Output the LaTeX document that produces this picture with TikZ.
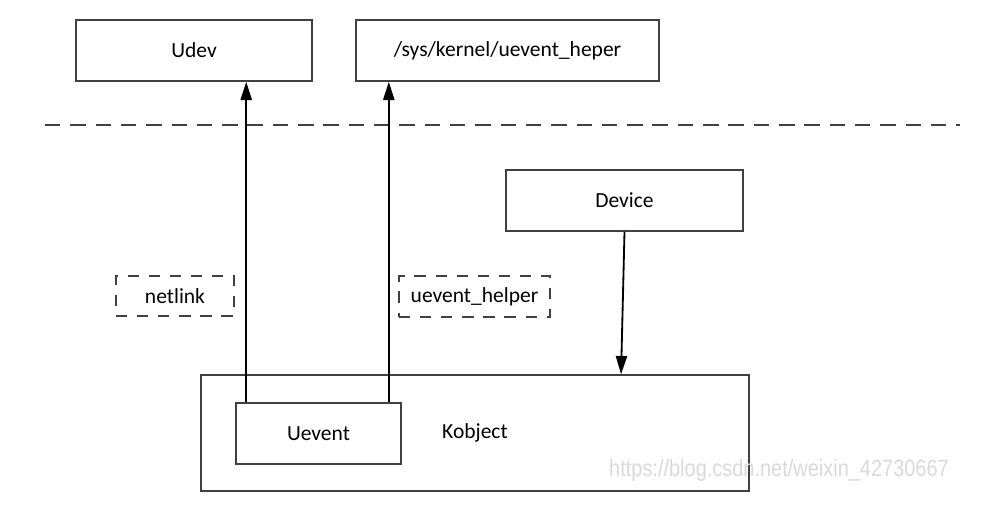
\documentclass[tikz,border=0pt]{standalone}
\usepackage{fontspec}
\setmainfont{Carlito}
\newfontfamily\markfont{Liberation Sans}
\usetikzlibrary{arrows.meta}
\definecolor{edgegray}{HTML}{404040}
\tikzset{
	box/.style={draw=edgegray, line width=1.1pt, minimum height=1.525cm},
	dbox/.style={draw=edgegray, line width=1.1pt, dash pattern=on 8pt off 7pt, minimum height=1cm},
	arr/.style={line width=1.3pt, -{Triangle[length=13pt, width=8pt]}}
}
\begin{document}
\begin{tikzpicture}[x=0.025cm, y=-0.025cm, font=\fontsize{15.3}{18}\selectfont]
	\useasboundingbox (0,0) rectangle (992,509);
	%user space
	\node[box, minimum width=5.9cm] (udev) at (194,50.5) {Udev};
	\node[box, minimum width=7.575cm] (sysk) at (507.5,50.5) {/sys/kernel/uevent\_heper};
	%border
	\coordinate (sepl) at (45,125);
	\coordinate (sepr) at (960,125);
	\draw[edgegray, line width=1.4pt, dash pattern=on 11pt off 7pt] (sepl) -- (sepr);
	%kernel
	\node[box, minimum width=5.925cm] (device) at (624.5,200.5) {Device};
	\node[dbox, minimum width=2.95cm] (netlink) at (175,296) {netlink};
	\node[dbox, minimum width=3.775cm, minimum height=1.025cm] (helper) at (474.5,296.5) {uevent\_helper};
	\node[box, minimum width=13.7cm, minimum height=2.9cm] (kobject) at (475,433) {Kobject};
	\node[box, fill=white, minimum width=4.125cm] (uevent) at (318.5,433.5) {Uevent};
	%arrows
	\draw[arr] ([xshift=0.275cm]uevent.north west) -- ([xshift=0.275cm]uevent.north west |- udev.south);
	\draw[arr] ([xshift=-0.325cm]uevent.north east) -- ([xshift=-0.325cm]uevent.north east |- sysk.south);
	\draw[arr] (device.south) -- ([xshift=3.65cm]kobject.north);
	%watermark
	\node[text=gray!30, font=\markfont\fontsize{16.7}{19}\selectfont, xscale=0.85] (mark) at (779,470) {https://blog.csdn.net/weixin\_42730667};
\end{tikzpicture}
\end{document}
